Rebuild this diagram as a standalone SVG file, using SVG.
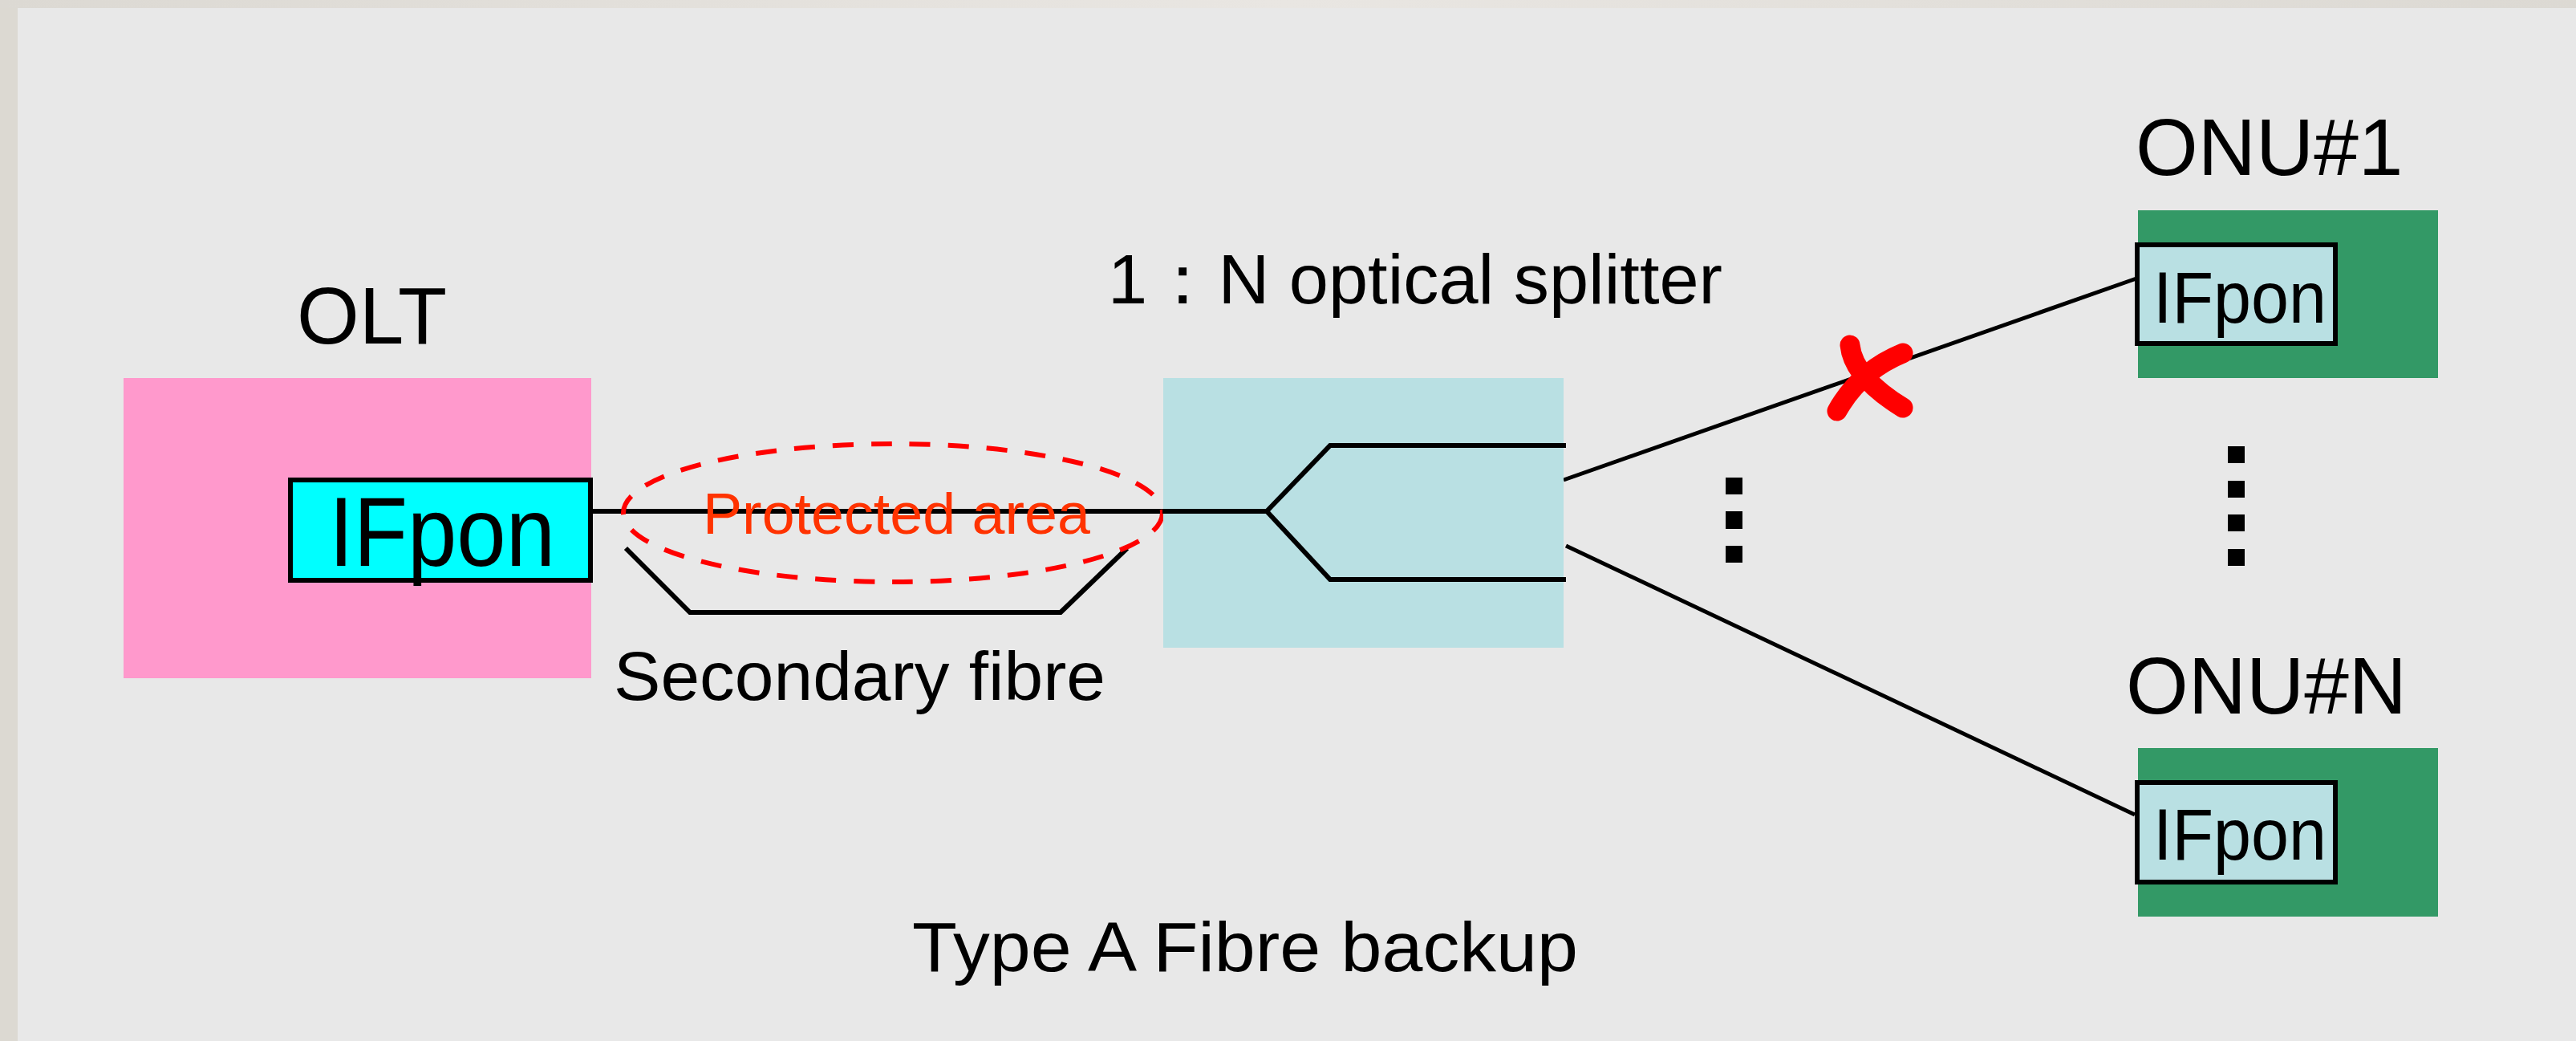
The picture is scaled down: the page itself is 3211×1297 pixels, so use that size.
<svg xmlns="http://www.w3.org/2000/svg" width="3211" height="1297" viewBox="0 0 3211 1297">
  <defs>
    <linearGradient id="topband" x1="0" y1="0" x2="1" y2="0">
      <stop offset="0" stop-color="#dcd9d3"/>
      <stop offset="0.5" stop-color="#e9e6e2"/>
      <stop offset="1" stop-color="#dcd9d3"/>
    </linearGradient>
  </defs>
  <style>
    text { font-family: "Liberation Sans", Arial, sans-serif; fill: #000; }
    .lbl { font-size: 100px; }
    .fib { fill: none; stroke: #000; stroke-width: 6; }
    .thin { fill: none; stroke: #000; stroke-width: 5; }
    .port { stroke: #000; stroke-width: 6; }
    .onu { fill: #339966; }
    .x { fill: none; stroke: #ff0000; stroke-width: 25; stroke-linecap: round; }
  </style>
  <rect x="0" y="0" width="3211" height="1297" fill="#dcd9d2"/>
  <rect x="0" y="0" width="3211" height="10" fill="url(#topband)"/>
  <rect x="22" y="10" width="3189" height="1287" fill="#e8e8e8"/>

  <g id="connectors">
    <line class="fib" x1="739" y1="637" x2="1579" y2="637"/>
    <polyline class="fib" points="780,683 860,763 1322,763 1405,683"/>
    <polyline class="fib" points="1952,555 1658,555 1579,637 1658,722 1952,722"/>
    <line class="thin" x1="1949" y1="598" x2="2663" y2="347"/>
    <line class="thin" x1="1952" y1="680" x2="2661" y2="1015"/>
  </g>

  <g id="olt">
    <text class="lbl" x="370" y="428">OLT</text>
    <rect x="154" y="471" width="583" height="374" fill="#ff99cc"/>
    <rect class="port" x="362" y="598" width="374" height="125" fill="#00ffff"/>
    <text x="410" y="705" font-size="122" textLength="282" lengthAdjust="spacingAndGlyphs">IFpon</text>
  </g>

  <g id="protected-area">
    <ellipse cx="1113" cy="639" rx="336" ry="86" fill="none" stroke="#ff0000" stroke-width="6" stroke-dasharray="26 22"/>
    <text x="876" y="665" font-size="72" textLength="483" lengthAdjust="spacingAndGlyphs" style="fill:#ff3300">Protected area</text>
  </g>

  <g id="secondary-fibre-label">
    <text x="765" y="872" font-size="86" textLength="613" lengthAdjust="spacingAndGlyphs">Secondary fibre</text>
  </g>

  <g id="splitter">
    <rect x="1450" y="471" width="499" height="336" fill="#b9e0e3"/>
    <polyline class="fib" points="1579,637 1658,555 1952,555"/>
    <polyline class="fib" points="1579,637 1658,722 1952,722"/>
    <line class="fib" x1="1449" y1="637" x2="1579" y2="637"/>
    <text x="1381" y="378" font-size="88" textLength="766" lengthAdjust="spacingAndGlyphs">1：N optical splitter</text>
  </g>

  <g id="dots-mid" fill="#000">
    <rect x="2151" y="595" width="21" height="21"/>
    <rect x="2151" y="637" width="21" height="22"/>
    <rect x="2151" y="680" width="21" height="21"/>
  </g>

  <g id="fault">
    <path class="x" d="M2306,430 Q2310,470 2372,508"/>
    <path class="x" d="M2372,440 Q2318,462 2290,512"/>
  </g>

  <g id="onu1">
    <text class="lbl" x="2662" y="218">ONU#1</text>
    <rect class="onu" x="2665" y="262" width="374" height="209"/>
    <rect class="port" x="2664" y="305" width="247" height="123" fill="#b9e0e3"/>
    <text x="2684" y="402" font-size="90" textLength="216" lengthAdjust="spacingAndGlyphs">IFpon</text>
  </g>

  <g id="dots-onu" fill="#000">
    <rect x="2777" y="556" width="21" height="21"/>
    <rect x="2777" y="599" width="21" height="21"/>
    <rect x="2777" y="641" width="21" height="21"/>
    <rect x="2777" y="684" width="21" height="21"/>
  </g>

  <g id="onuN">
    <text class="lbl" x="2650" y="889">ONU#N</text>
    <rect class="onu" x="2665" y="932" width="374" height="210"/>
    <rect class="port" x="2664" y="975" width="247" height="124" fill="#b9e0e3"/>
    <text x="2684" y="1071" font-size="90" textLength="216" lengthAdjust="spacingAndGlyphs">IFpon</text>
  </g>

  <g id="caption">
    <text x="1137" y="1210" font-size="87" textLength="830" lengthAdjust="spacingAndGlyphs">Type A  Fibre backup</text>
  </g>
</svg>
